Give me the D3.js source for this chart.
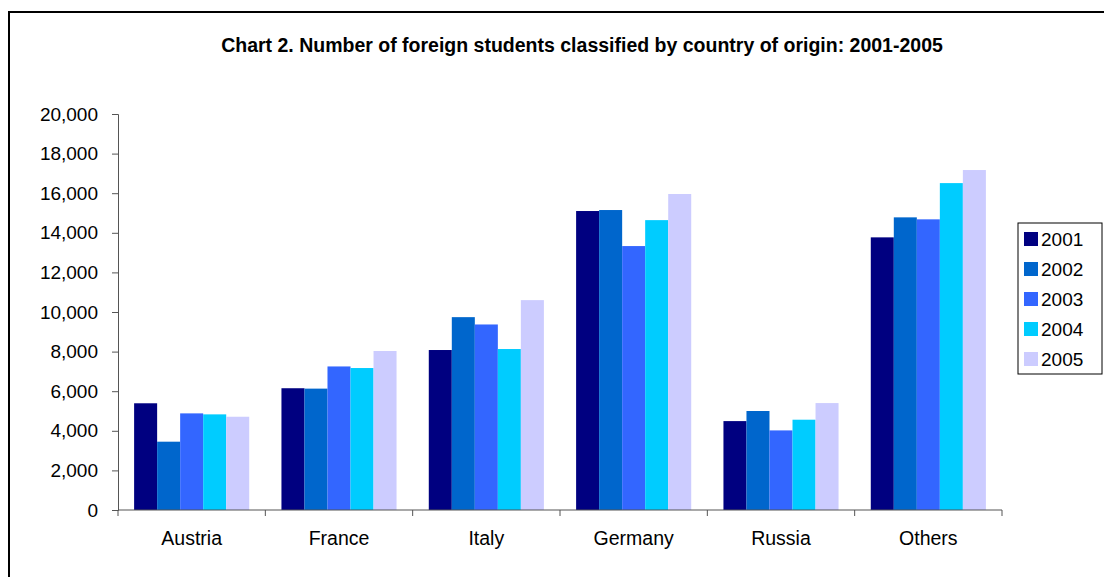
<!DOCTYPE html>
<html>
<head>
<meta charset="utf-8">
<script src="https://cdnjs.cloudflare.com/ajax/libs/d3/7.8.5/d3.min.js"></script>
<style>
  html, body { margin: 0; padding: 0; background: #fff; }
  svg { display: block; font-family: "Liberation Sans", Arial, sans-serif; }
</style>
</head>
<body>
<svg id="chart" width="1104" height="577"></svg>
<script>
var countries = ['Austria', 'France', 'Italy', 'Germany', 'Russia', 'Others'];
var years = ['2001', '2002', '2003', '2004', '2005'];
var colors = ['#000080', '#0066cc', '#3366ff', '#00ccff', '#ccccff'];

// one array per year, same order as countries
var v2001 = [5390, 6150, 8080, 15100, 4490, 13770];
var v2002 = [3450, 6130, 9740, 15150, 5000, 14780];
var v2003 = [4880, 7250, 9370, 13330, 4020, 14680];
var v2004 = [4830, 7170, 8130, 14640, 4560, 16510];
var v2005 = [4710, 8030, 10600, 15960, 5400, 17170];
var series = [v2001, v2002, v2003, v2004, v2005];

var yTicks = [0, 2000, 4000, 6000, 8000, 10000, 12000, 14000, 16000, 18000, 20000];

(function () {
  var svg = d3.select('#chart');
  var plotLeft = 118, plotRight = 1002, plotTop = 114, plotBottom = 510;

  // outer frame
  svg.append('rect')
      .attr('x', 9).attr('y', 12)
      .attr('width', 1110).attr('height', 600)
      .attr('fill', 'none')
      .attr('stroke', '#000')
      .attr('stroke-width', 2);

  svg.append('text')
      .attr('x', 582).attr('y', 52)
      .attr('text-anchor', 'middle')
      .attr('font-size', 19.5)
      .attr('font-weight', 'bold')
      .text('Chart 2. Number of foreign students classified by country of origin: 2001-2005');

  var x = d3.scaleBand().domain(countries).range([plotLeft, plotRight]);
  var inner = d3.scaleBand().domain(years).range([0, x.bandwidth()]).paddingOuter(0.7);
  var y = d3.scaleLinear().domain([0, 20000]).range([plotBottom, plotTop]);

  // bars
  var groups = svg.append('g').selectAll('g')
      .data(countries)
      .enter().append('g')
      .attr('transform', function (d) { return 'translate(' + x(d) + ',0)'; });

  groups.selectAll('rect')
      .data(function (d, i) {
        return years.map(function (yr, j) { return {year: yr, value: series[j][i], color: colors[j]}; });
      })
      .enter().append('rect')
      .attr('x', function (d) { return inner(d.year); })
      .attr('width', inner.bandwidth())
      .attr('y', function (d) { return y(d.value); })
      .attr('height', function (d) { return y(0) - y(d.value); })
      .attr('fill', function (d) { return d.color; });

  // y axis
  var yAxis = d3.axisLeft(y)
      .tickValues(yTicks)
      .tickSize(6)
      .tickPadding(14)
      .tickFormat(d3.format(','));

  var yg = svg.append('g')
      .attr('transform', 'translate(' + plotLeft + ',0)')
      .call(yAxis);
  yg.select('.domain').attr('stroke', '#555');
  yg.selectAll('.tick line').attr('stroke', '#555');
  yg.selectAll('.tick text')
      .attr('font-size', 19)
      .attr('fill', '#000')
      .attr('font-family', '"Liberation Sans", Arial, sans-serif');

  // x axis: ticks at band boundaries
  var boundaries = countries.map(function (c) { return x(c); }).concat([plotRight]);
  var xg = svg.append('g');
  xg.append('line')
      .attr('x1', plotLeft).attr('x2', plotRight)
      .attr('y1', plotBottom).attr('y2', plotBottom)
      .attr('stroke', '#555');
  xg.selectAll('line.tk')
      .data(boundaries)
      .enter().append('line')
      .attr('class', 'tk')
      .attr('x1', function (d) { return d; })
      .attr('x2', function (d) { return d; })
      .attr('y1', plotBottom).attr('y2', plotBottom + 6)
      .attr('stroke', '#555');
  xg.selectAll('text')
      .data(countries)
      .enter().append('text')
      .attr('x', function (d) { return x(d) + x.bandwidth() / 2; })
      .attr('y', 545)
      .attr('text-anchor', 'middle')
      .attr('font-size', 19.5)
      .text(function (d) { return d; });

  // legend
  var legend = svg.append('g');
  legend.append('rect')
      .attr('x', 1018).attr('y', 223)
      .attr('width', 84).attr('height', 151)
      .attr('fill', '#fff')
      .attr('stroke', '#000')
      .attr('stroke-width', 1);

  var items = legend.selectAll('g.item')
      .data(years)
      .enter().append('g')
      .attr('class', 'item')
      .attr('transform', function (d, i) { return 'translate(1024,' + (239 + i * 30) + ')'; });
  items.append('rect')
      .attr('x', 0).attr('y', -7)
      .attr('width', 14).attr('height', 14)
      .attr('fill', function (d, i) { return colors[i]; });
  items.append('text')
      .attr('x', 17).attr('y', 7)
      .attr('font-size', 19)
      .text(function (d) { return d; });
})();
</script>
</body>
</html>
